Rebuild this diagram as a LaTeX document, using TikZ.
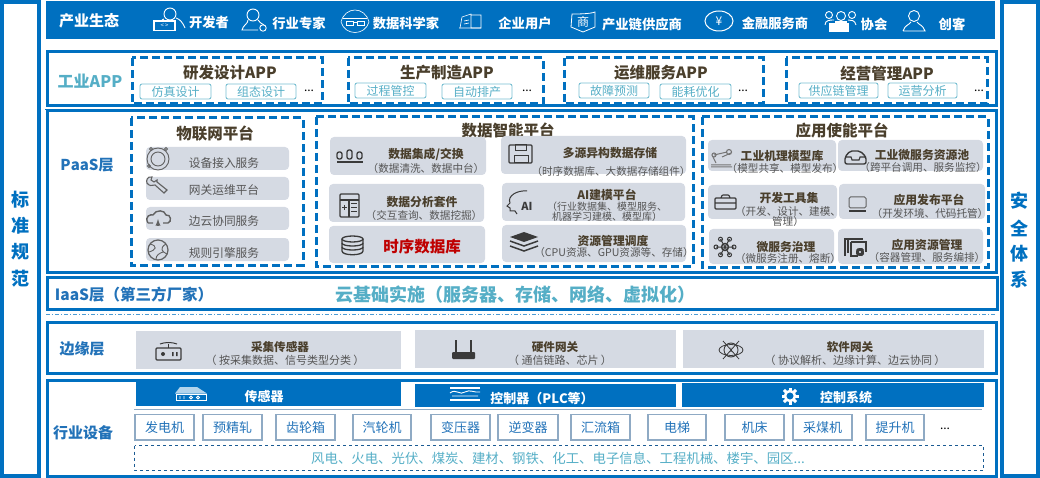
\documentclass[tikz,border=0pt]{standalone}
\usepackage{fontspec}
\setmainfont[Kerning=Off]{Noto Sans CJK SC}
\usepackage{xcolor}
\usetikzlibrary{calc}
\definecolor{mainblue}{HTML}{0070C0}
\definecolor{tealtext}{HTML}{55AEC6}
\definecolor{headtext}{HTML}{4A3F2C}
\definecolor{greyfill}{HTML}{D5DAE3}
\definecolor{subtext}{HTML}{555555}
\definecolor{icondark}{HTML}{3A3A3A}
\definecolor{machline}{HTML}{8FAAC4}
\definecolor{labelblue}{HTML}{2272B8}
\tikzset{
  fs/.style={font=\fontsize{#1}{#1}\selectfont},
  fb/.style={font=\fontsize{#1}{#1}\selectfont\bfseries},
  layerframe/.style={draw=mainblue, line width=3},
  sideframe/.style={draw=mainblue, line width=3.5},
  dashbox/.style={draw=mainblue, line width=3, dash pattern=on 8 off 4},
  tagbox/.style={draw=tealtext!80!white, line width=.9, rounded corners=2},
  greybox/.style={fill=greyfill, rounded corners=4},
  flatbox/.style={fill=greyfill},
  barbox/.style={fill=mainblue},
  machbox/.style={draw=machline, line width=1.4},
  lbl/.style={inner sep=0, align=center},
  person/.pic={
    \draw[line width=.9] (0,-6) circle (5.5);
    \draw[line width=.9] (-11,9) .. controls (-9,3) and (-5,3) .. (-3,0)
      (3,0) .. controls (5,3) and (9,3) .. (11,9) -- (-11,9);
  },
  gear/.pic={
    \foreach \a in {0,45,...,315} \draw[line width=3] (\a:5)--(\a:8.5);
    \draw[line width=2.5] (0,0) circle (5);
  },
}
\begin{document}
\begin{tikzpicture}[x=1pt,y=-1pt]
\useasboundingbox (0,0) rectangle (1040,478);
% side columns
\draw[sideframe] (2,2) rectangle (39,476);
\draw[sideframe] (1002,2) rectangle (1038,476);
\foreach \y/\t [count=\i] in {200/标,226/准,252/规,279/范}
  \node[lbl, fb=18, mainblue] (left\i) at (21,\y) {\t};
\foreach \y/\t [count=\i] in {201/安,228/全,254/体,280/系}
  \node[lbl, fb=18, mainblue] (right\i) at (1019,\y) {\t};
% layers
\fill[mainblue] (46,1) rectangle (995,39);
\draw[layerframe] (47,52) rectangle (996,106);
\draw[mainblue, line width=.8] (45,109) -- (998,109);
\draw[layerframe] (47,111) rectangle (996,272);
\draw[layerframe] (47,277) rectangle (997,309);
\draw[mainblue!70!white, line width=.6, dash pattern=on 4 off 2 on 1 off 2] (46,314.5) -- (995,314.5);
\draw[layerframe] (47,322) rectangle (996,373);
\draw[layerframe] (47,380) rectangle (996,476);
% layer labels
\node[lbl, fb=15, white] (eco) at (89,21) {产业生态};
\node[lbl, fb=16, tealtext] (app) at (90,81) {工业APP};
\node[lbl, fb=15, labelblue] (paas) at (87,165) {PaaS层};
\node[lbl, fb=15.5, labelblue] (iaas) at (134,295) {IaaS层（第三方厂家）};
\node[lbl, fb=18, tealtext] (iaastext) at (515,295) {云基础实施（服务器、存储、网络、虚拟化）};
\node[lbl, fb=15, labelblue] (edge) at (82,349) {边缘层};
\node[lbl, fb=15, labelblue] (equip) at (83,433) {行业设备};
% ecosystem
\foreach \x/\y/\t [count=\i] in {209/22/开发者,299/23/行业专家,406/23/数据科学家,525/23/企业用户,642/24/产业链供应商,775/23/金融服务商,874/24/协会,952/24/创客}
  \node[lbl, fb=13.3, white] (eco\i) at (\x,\y) {\t};
% icon: developer
\begin{scope}[white, line width=.9]
  \draw (170,14) circle (6);
  \draw (164,19) -- (162,20) (176,18) .. controls (180,19) and (183,23) .. (185,28);
  \draw[line width=1.2] (154,21) rectangle (175,30.5);
  \node[lbl, fs=6] (devcode) at (164.5,25.5) {< >};
  % expert
  \draw (253,15) circle (6);
  \draw (248,20) .. controls (248,24) and (243,25) .. (242,30) -- (258,30);
  \draw (258,20) .. controls (259,23) and (262,23) .. (264,25);
  \draw (263,28) circle (3.2);
  % scientist
  \draw[line width=.6] (341,22) .. controls (345,6) and (365,6) .. (369,22) .. controls (365,36) and (345,36) .. (341,22);
  \draw[line width=.6] (343,18) -- (367,18);
  \draw[line width=.6] (346,21) rectangle (353,25) (357,21) rectangle (364,25) (353,22) -- (357,22);
  % enterprise
  \draw[line width=.6] (460,28) -- (462,17) -- (471,14) -- (471,28) -- (481,28) -- (481,15) -- (471,15);
  \draw[line width=.6] (459,28) -- (481,28) (464,21) -- (469,20) (464,24) -- (469,23);
  % merchant
  \draw[line width=.8] (572,14) .. controls (578,14) and (590,14) .. (595,12) -- (595,27) -- (583,32) -- (571,27) -- cycle;
  \node[lbl, fs=12] (shopmark) at (583,22) {商};
  % yuan
  \draw[line width=1] (719,21) ellipse (14 and 10);
  \node[lbl, fs=12] (yuanmark) at (719,21) {¥};
  % association
  \draw (841,16) circle (4.5) (829,15) circle (3.5) (852,15) circle (3.5);
  \fill (829,23) rectangle (849,32);
  \fill (835,21) rectangle (847,26);
  \draw (825,25) .. controls (825,20) and (830,20) .. (834,20) (856,25) .. controls (855,20) and (851,20) .. (848,20);
\end{scope}
\pic[white] at (914,22) {person};
% APP boxes
\foreach \a/\b in {132/322,348/543,564/763,786/987}
  \draw[dashbox] (\a,58) rectangle (\b,104);
\foreach \x/\y/\t [count=\i] in {230/73/研发设计APP,447/73/生产制造APP,661/73/运维服务APP,887/74/经营管理APP}
  \node[lbl, fb=15.5, headtext] (appt\i) at (\x,\y) {\t};
\foreach \a/\b/\c/\t [count=\i] in {140/211/84/仿真设计,226/296/84/组态设计,355/426/83/过程管控,442/512/84/自动排产,579/649/83/故障预测,660/731/84/能耗优化,799/878/83/供应链管理,888/957/83/运营分析} {
  \draw[tagbox] (\a,\c) rectangle (\b,\c+15);
  \node[lbl, fs=12, tealtext] (tag\i) at ({(\a+\b)/2},\c+7.5) {\t};
}
\foreach \x/\y [count=\i] in {309/91,527/91,743/91,979/91}
  \node[lbl, fs=12, black] (more\i) at (\x,\y) {...};
% PaaS boxes
\draw[dashbox] (131,118) rectangle (303,265);
\draw[dashbox] (316,117) rectangle (693,266);
\draw[dashbox] (702,117) rectangle (988,267);
\node[lbl, fb=15.5, headtext] (iot) at (215,134) {物联网平台};
\node[lbl, fb=15.5, headtext] (data) at (508,130) {数据智能平台};
\node[lbl, fb=15.5, headtext] (enable) at (842,131) {应用使能平台};
\foreach \a/\b/\y/\t [count=\i] in {147/170/163/设备接入服务,177/200/190/网关运维平台,207/230/221/边云协同服务,238/261/253/规则引擎服务} {
  \fill[greybox] (146,\a) rectangle (289,\b);
  \node[lbl, fs=11.7, subtext] (iot\i) at (224,\y) {\t};
}
% data + application cards
\foreach \a/\b/\c/\d in {330/137/486/175,501/136/686/174,329/184/484/222,502/183/685/221,329/226/485/263,502/225/686/262,
  708/140/836/171,838/140/983/171,708/185/837/219,839/184/985/219,709/229/834/264,838/229/983/264}
  \fill[greybox] (\a,\b) rectangle (\c,\d);
\foreach \x/\y/\t [count=\i] in {426/154/{数据集成/交换},610/153/多源异构数据存储,422/202/数据分析套件,607/195/AI建模平台,613/241/资源管理调度,
  782/156/工业机理模型库,922/155/工业微服务资源池,789/198/开发工具集,929/200/应用发布平台,786/247/微服务治理,927/245/应用资源管理}
  \node[lbl, fb=11.8, headtext] (card\i) at (\x,\y) {\t};
\foreach \x/\y/\t [count=\i] in {426/168/（数据清洗、数据中台）,611/171/（时序数据库、大数据存储组件）,424/215/（交互查询、数据挖掘）,614/252/（CPU资源、GPU资源等、存储）,
  785/168/（模型共享、模型发布）,923/167/（跨平台调用、服务监控）,930/213/（开发环境、代码托管）,788/258/（微服务注册、熔断）,927/257/（容器管理、服务编排）}
  \node[lbl, fs=10.6, subtext] (sub\i) at (\x,\y) {\t};
\node[lbl, fs=10, subtext] (subai) at (607,212) {（行业数据集、模型服务、\\机器学习建模、模型库）};
\node[lbl, fs=10.6, subtext] (subtool) at (788,216.5) {（开发、设计、建模、\\管理）};
\node[lbl, fb=15.5, red!75!black] (tsdb) at (422,247) {时序数据库};
% IoT icons
\begin{scope}[icondark!80!white, line width=.9]
  \draw (158,159) circle (11) (158,159) circle (7);
  \draw (151,149) circle (1.5) (166,149) circle (1.5) (149,166) circle (1.5);
  \draw[line width=1.1] (152,177) .. controls (147,176) and (146,181) .. (147,183) .. controls (149,186) and (152,186) .. (155,185) -- (164,193) -- (167,190) -- (157,182) -- (157,180) -- (154,182) -- (151,180) -- cycle;
  \draw[line width=1.4] (148,223) .. controls (144,216) and (151,214) .. (153,215) .. controls (156,209) and (165,210) .. (166,215) .. controls (171,214) and (172,222) .. (168,223) -- (163,223) (153,223) -- (148,223);
  \draw[-latex, line width=1.3] (158,226) -- (158,219);
  \draw[line width=1.2] (158,250) circle (10);
  \draw (150,244) .. controls (158,246) and (156,250) .. (149,252) (166,244) .. controls (159,248) and (162,252) .. (167,254) (156,259) .. controls (156,255) and (160,253) .. (163,252);
\end{scope}
% data icons
\begin{scope}[icondark, line width=1.3]
  \draw (337,162) -- (363,162);
  \draw[rounded corners=2] (337,152) rectangle (342,159) (347,150) rectangle (352,159) (357,152) rectangle (362,159);
  \draw[line width=1.1, rounded corners=1] (509,145) rectangle (532,163);
  \draw[line width=1] (515,145) rectangle (526,151) (514,156) rectangle (528,163);
  \draw[line width=1.2, rounded corners=1] (340,194) rectangle (359,217);
  \draw (340,200) -- (359,200) (349,200) -- (349,217);
  \draw[line width=1] (342,208) -- (347,208) (344.5,205.5) -- (344.5,210.5) (351,204) -- (357,204) (351,208) -- (357,208) (351,212) -- (357,212);
  \draw[line width=1] (527,191) .. controls (517,190) and (507,196) .. (510,203) -- (507,206) -- (510,208) -- (510,211) -- (515,211) -- (517,214);
  \node[lbl, fb=11, icondark] (aimark) at (527,206) {AI};
  \draw (342,239) -- (342,251) .. controls (342,256) and (363,256) .. (363,251) -- (363,239);
  \draw (352.5,239) ellipse (10.5 and 3);
  \draw (342,243) .. controls (342,247) and (363,247) .. (363,243) (342,247) .. controls (342,251) and (363,251) .. (363,247);
  \fill (510,237) -- (524,232) -- (538,237) -- (524,242) -- cycle;
  \draw[line width=1.5] (510,241) -- (524,246) -- (538,241) (510,246) -- (524,251) -- (538,246);
\end{scope}
% application icons
\begin{scope}[icondark, line width=1.1]
  \draw[icondark!70!white, line width=1] (711,167) -- (732,167) (711,165) -- (731,165) (713,157) -- (716,163) (714,155) -- (727,152) (722,157) -- (731,153);
  \draw[icondark!70!white] (729,152) circle (2.5) (714,155) circle (2);
  \draw[line width=1.4, rounded corners=2] (845,157) -- (850,151) -- (860,151) -- (866,157) -- (866,164) -- (845,164) -- cycle;
  \draw (845,157) -- (851,157) -- (852,160) -- (859,160) -- (860,157) -- (866,157);
  \draw[rounded corners=1] (715,198) rectangle (736,209) (715,203) -- (736,203) (721,198) -- (722,195) -- (729,195) -- (730,198);
  \draw[icondark!80!white, line width=1, rounded corners=1.5] (849,197) rectangle (866,208);
  \draw (849,211) -- (866,211);
  \foreach \a in {0,60,...,300} \draw[line width=1] (725,247) -- ++(\a:9) circle (2);
  \draw[line width=1.4] (725,247) circle (3.5);
  \draw[line width=1.2] (845,256) -- (845,239) -- (863,239);
  \draw[line width=1.2] (848,239) -- (848,253);
  \draw[line width=1.2] (851,242) -- (866,242) -- (866,252) (851,242) -- (851,256) -- (858,256);
\end{scope}
\pic[icondark, scale=.5] at (860,252) {gear};
% edge layer
\foreach \a/\b/\c/\d in {136/331/401/369,415/330/676/368,683/330/984/368}
  \fill[flatbox] (\a,\b) rectangle (\c,\d);
\foreach \x/\t [count=\i] in {280/采集传感器,555/硬件网关,850/软件网关}
  \node[lbl, fb=11.6, headtext] (edget\i) at (\x,347) {\t};
\foreach \x/\t [count=\i] in {285/（ 按采集数据、信号类型分类 ）,560/（ 通信链路、芯片 ）,855/（ 协议解析、边缘计算、边云协同 ）}
  \node[lbl, fs=11, subtext] (edges\i) at (\x,360) {\t};
\begin{scope}[icondark, line width=1.4]
  \draw[rounded corners=1] (156,348) rectangle (181,360);
  \fill (163,354) circle (2);
  \fill (172,352) rectangle (173.5,356) (176,352) rectangle (177.5,356);
  \draw[line width=1] (160,344) .. controls (165,342) and (172,342) .. (177,344);
  \draw (168.5,344) -- (168.5,348);
  \fill[rounded corners=1] (452,352) rectangle (475,359);
  \draw (456,340) -- (456,352) (471,340) -- (471,352);
  \draw[line width=.9] (731,350) circle (7);
  \draw[line width=.8] (731,350) ellipse (12 and 5.5) (723,341) -- (739,359) (739,341) -- (723,359);
  \node[lbl, fs=6, icondark] (atommark) at (731,350) {1};
\end{scope}
% equipment layer
\foreach \a/\b/\c/\d in {136/382/401/406,415/384/676/407,682/383/984/407}
  \fill[barbox] (\a,\b) rectangle (\c,\d);
\draw[machline, line width=.8] (134,409.5) -- (982,409.5);
\node[lbl, fb=13, white] (bar1) at (264,397) {传感器};
\node[lbl, fb=13, white] (bar2) at (542,399) {控制器（PLC等）};
\node[lbl, fb=13, white] (bar3) at (846,398) {控制系统};
\begin{scope}[white, line width=.9]
  \fill[white!70!mainblue] (180,387) -- (197,387) -- (207,393.5) -- (175,393.5) -- cycle;
  \draw (176,394.5) rectangle (206,400);
  \draw[line width=.8] (180,396) -- (180,399) (184,396) -- (184,399) (191,397.5) circle (1.5) (198,397.5) circle (1.5);
  \draw[line width=1.5] (450,388) -- (480,388) (450,400) -- (480,400);
  \draw (450,393) .. controls (456,388) and (460,396) .. (465,392) .. controls (470,389) and (474,393) .. (480,392) (452,396) -- (478,396);
\end{scope}
\pic[white] at (790,396) {gear};
\foreach \a/\b/\t [count=\i] in {135/194/发电机,203/262/预精轧,276/335/齿轮箱,353/411/汽轮机,431/490/变压器,498/558/逆变器,571/630/汇流箱,648/706/电梯,725/784/机床,793/852/采煤机,866/924/提升机} {
  \draw[machbox] (\a,414.5) rectangle (\b,440);
  \node[lbl, fs=13, labelblue] (mach\i) at ({(\a+\b)/2},427.5) {\t};
}
\node[lbl, fs=12, black] (machmore) at (945,429) {...};
\draw[labelblue!80!black, line width=.7, dashed] (134.5,445.5) rectangle (983.5,470);
\node[lbl, fs=13.4, tealtext] (sector) at (558,458) {风电、火电、光伏、煤炭、建材、钢铁、化工、电子信息、工程机械、楼宇、园区...};
\end{tikzpicture}
\end{document}
